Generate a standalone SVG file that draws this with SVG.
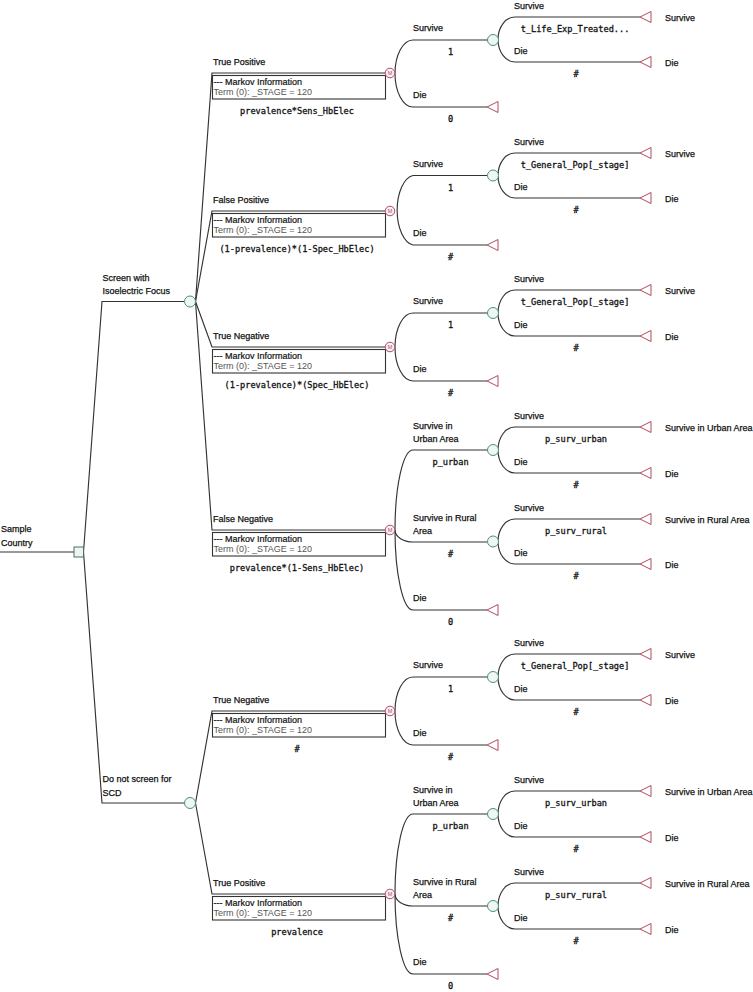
<svg xmlns="http://www.w3.org/2000/svg" xmlns:xlink="http://www.w3.org/1999/xlink" width="753" height="992" viewBox="0 0 753 992">
<style>
.ln{fill:none;stroke:#333;stroke-width:1.15}
.lbl{font-family:"Liberation Sans",Arial,sans-serif;font-size:9px;fill:#111;stroke:#111;stroke-width:0.25}
.mi{font-family:"Liberation Sans",Arial,sans-serif;font-size:9px;fill:#111;stroke:#111;stroke-width:0.2}
.mt{font-family:"Liberation Sans",Arial,sans-serif;font-size:9px;fill:#555}
.pr{font-family:"DejaVu Sans Mono","Liberation Mono",monospace;font-size:8.6px;fill:#111;stroke:#111;stroke-width:0.3;text-anchor:middle}
.box{fill:#fff;stroke:#333;stroke-width:1.1}
.chance{fill:#eef7f3;stroke:#4f8f7c;stroke-width:1}
.dec{fill:#eef4f2;stroke:#4f6f66;stroke-width:1}
.mc{fill:#fbeef3;stroke:#a8506e;stroke-width:1}
.mlt{font-family:"Liberation Sans",Arial,sans-serif;font-size:5.5px;fill:#a8506e;text-anchor:middle}
.term{fill:#fff;stroke:#b04a5c;stroke-width:1}
</style>
<defs>
<polygon id="tri" class="term" points="0,0 11,-5.5 11,5.5"/>
<circle id="ch" class="chance" r="5.5"/>
<g id="mk"><circle class="mc" r="4.8"/><text class="mlt" y="2">M</text></g>
</defs>

<g id="connectors">
<path class="ln" d="M0,552 H74"/>
<path class="ln" d="M83.5,552 L102,301.5 H184.5"/>
<path class="ln" d="M83.5,552 L102,803 H184.5"/>
<path class="ln" d="M195.5,301.5 L212,73 H385"/>
<path class="ln" d="M195.5,301.5 L212,211 H385"/>
<path class="ln" d="M195.5,301.5 L212,347 H385"/>
<path class="ln" d="M195.5,301.5 L212,530 H385"/>
<path class="ln" d="M195.5,803 L212,711 H385"/>
<path class="ln" d="M195.5,803 L212,894 H385"/>
<path class="ln" d="M487.5,40 H413 A18,33.5 0 0 0 413,107 H487"/>
<path class="ln" d="M487.5,175.5 H413 A18,35 0 0 0 413,245 H487"/>
<path class="ln" d="M487.5,313 H413 A18,34 0 0 0 413,381 H487"/>
<path class="ln" d="M487.5,450 H413 A18,80 0 0 0 413,610 H487"/>
<path class="ln" d="M395,530 A18,12 0 0 0 413,542 H487.5"/>
<path class="ln" d="M487.5,677 H413 A18,34 0 0 0 413,745 H487"/>
<path class="ln" d="M487.5,814 H413 A18,80 0 0 0 413,974 H487"/>
<path class="ln" d="M395,894 A18,12 0 0 0 413,906 H487.5"/>
<path class="ln" d="M640,17 H515 A17,22.5 0 0 0 515,62 H640"/>
<path class="ln" d="M640,153 H515 A17,22.5 0 0 0 515,198 H640"/>
<path class="ln" d="M640,290 H515 A17,23 0 0 0 515,336 H640"/>
<path class="ln" d="M640,427 H515 A17,23 0 0 0 515,473 H640"/>
<path class="ln" d="M640,519 H515 A17,22.5 0 0 0 515,564 H640"/>
<path class="ln" d="M640,654 H515 A17,23 0 0 0 515,700 H640"/>
<path class="ln" d="M640,791 H515 A17,23 0 0 0 515,837 H640"/>
<path class="ln" d="M640,883 H515 A17,23 0 0 0 515,929 H640"/>
</g>

<g id="root">
<rect class="dec" x="74" y="547" width="9.5" height="10"/>
<text class="lbl" x="1" y="532.3">Sample</text>
<text class="lbl" x="1" y="545.6">Country</text>
</g>

<g id="screen">
<use href="#ch" x="190" y="301.5"/>
<text class="lbl" x="102.5" y="280.5">Screen with</text>
<text class="lbl" x="102.5" y="294">Isoelectric Focus</text>
</g>

<g id="noscreen">
<use href="#ch" x="190" y="803"/>
<text class="lbl" x="102.5" y="782">Do not screen for</text>
<text class="lbl" x="102.5" y="795.5">SCD</text>
</g>

<g id="m-tp">
<text class="lbl" x="213" y="65.3">True Positive</text>
<rect class="box" x="212.5" y="75.5" width="173" height="23.5"/>
<text class="mi" x="213.5" y="85">--- Markov Information</text>
<text class="mt" x="213.5" y="95.3">Term (0): _STAGE = 120</text>
<text class="pr" x="297" y="113.5">prevalence*Sens_HbElec</text>
<use href="#mk" x="390" y="73"/>
</g>
<g id="tp-survive">
<text class="lbl" x="413" y="31.3">Survive</text>
<text class="pr" x="450.5" y="55">1</text>
<use href="#ch" x="493" y="40"/>
</g>
<g id="tp-survive-survive">
<text class="lbl" x="514" y="8.6">Survive</text>
<text class="pr" x="575" y="32.3">t_Life_Exp_Treated...</text>
<use href="#tri" x="640" y="17"/>
<text class="lbl" x="665" y="21">Survive</text>
</g>
<g id="tp-survive-die">
<text class="lbl" x="514" y="53.6">Die</text>
<text class="pr" x="576" y="77.3">#</text>
<use href="#tri" x="640" y="62"/>
<text class="lbl" x="665" y="66">Die</text>
</g>
<g id="tp-die">
<text class="lbl" x="413" y="98.3">Die</text>
<text class="pr" x="450.5" y="122">0</text>
<use href="#tri" x="487" y="107"/>
</g>

<g id="m-fp">
<text class="lbl" x="213" y="203.3">False Positive</text>
<rect class="box" x="212.5" y="213.5" width="173" height="23.5"/>
<text class="mi" x="213.5" y="223">--- Markov Information</text>
<text class="mt" x="213.5" y="233.3">Term (0): _STAGE = 120</text>
<text class="pr" x="297" y="251.5">(1-prevalence)*(1-Spec_HbElec)</text>
<use href="#mk" x="390" y="211"/>
</g>
<g id="fp-survive">
<text class="lbl" x="413" y="166.8">Survive</text>
<text class="pr" x="450.5" y="190.5">1</text>
<use href="#ch" x="493" y="175.5"/>
</g>
<g id="fp-survive-survive">
<text class="lbl" x="514" y="144.6">Survive</text>
<text class="pr" x="575" y="168.3">t_General_Pop[_stage]</text>
<use href="#tri" x="640" y="153"/>
<text class="lbl" x="665" y="157">Survive</text>
</g>
<g id="fp-survive-die">
<text class="lbl" x="514" y="189.6">Die</text>
<text class="pr" x="576" y="213.3">#</text>
<use href="#tri" x="640" y="198"/>
<text class="lbl" x="665" y="202">Die</text>
</g>
<g id="fp-die">
<text class="lbl" x="413" y="236.3">Die</text>
<text class="pr" x="450.5" y="260">#</text>
<use href="#tri" x="487" y="245"/>
</g>

<g id="m-tn">
<text class="lbl" x="213" y="339.3">True Negative</text>
<rect class="box" x="212.5" y="349.5" width="173" height="23.5"/>
<text class="mi" x="213.5" y="359">--- Markov Information</text>
<text class="mt" x="213.5" y="369.3">Term (0): _STAGE = 120</text>
<text class="pr" x="297" y="387.5">(1-prevalence)*(Spec_HbElec)</text>
<use href="#mk" x="390" y="347"/>
</g>
<g id="tn-survive">
<text class="lbl" x="413" y="304.3">Survive</text>
<text class="pr" x="450.5" y="328">1</text>
<use href="#ch" x="493" y="313"/>
</g>
<g id="tn-survive-survive">
<text class="lbl" x="514" y="281.6">Survive</text>
<text class="pr" x="575" y="305.3">t_General_Pop[_stage]</text>
<use href="#tri" x="640" y="290"/>
<text class="lbl" x="665" y="294">Survive</text>
</g>
<g id="tn-survive-die">
<text class="lbl" x="514" y="327.6">Die</text>
<text class="pr" x="576" y="351.3">#</text>
<use href="#tri" x="640" y="336"/>
<text class="lbl" x="665" y="340">Die</text>
</g>
<g id="tn-die">
<text class="lbl" x="413" y="372.3">Die</text>
<text class="pr" x="450.5" y="396">#</text>
<use href="#tri" x="487" y="381"/>
</g>

<g id="m-fn">
<text class="lbl" x="213" y="522.3">False Negative</text>
<rect class="box" x="212.5" y="532.5" width="173" height="23.5"/>
<text class="mi" x="213.5" y="542">--- Markov Information</text>
<text class="mt" x="213.5" y="552.3">Term (0): _STAGE = 120</text>
<text class="pr" x="297" y="570.5">prevalence*(1-Sens_HbElec)</text>
<use href="#mk" x="390" y="530"/>
</g>
<g id="fn-urban">
<text class="lbl" x="413" y="429">Survive in</text>
<text class="lbl" x="413" y="442.3">Urban Area</text>
<text class="pr" x="450.5" y="465">p_urban</text>
<use href="#ch" x="493" y="450"/>
</g>
<g id="fn-urban-survive">
<text class="lbl" x="514" y="418.6">Survive</text>
<text class="pr" x="576" y="442.3">p_surv_urban</text>
<use href="#tri" x="640" y="427"/>
<text class="lbl" x="665" y="431">Survive in Urban Area</text>
</g>
<g id="fn-urban-die">
<text class="lbl" x="514" y="464.6">Die</text>
<text class="pr" x="576" y="488.3">#</text>
<use href="#tri" x="640" y="473"/>
<text class="lbl" x="665" y="477">Die</text>
</g>
<g id="fn-rural">
<text class="lbl" x="413" y="521">Survive in Rural</text>
<text class="lbl" x="413" y="534.3">Area</text>
<text class="pr" x="450.5" y="557">#</text>
<use href="#ch" x="493" y="541.5"/>
</g>
<g id="fn-rural-survive">
<text class="lbl" x="514" y="510.6">Survive</text>
<text class="pr" x="576" y="534.3">p_surv_rural</text>
<use href="#tri" x="640" y="519"/>
<text class="lbl" x="665" y="523">Survive in Rural Area</text>
</g>
<g id="fn-rural-die">
<text class="lbl" x="514" y="555.6">Die</text>
<text class="pr" x="576" y="579.3">#</text>
<use href="#tri" x="640" y="564"/>
<text class="lbl" x="665" y="568">Die</text>
</g>
<g id="fn-die">
<text class="lbl" x="413" y="601.3">Die</text>
<text class="pr" x="450.5" y="625">0</text>
<use href="#tri" x="487" y="610"/>
</g>

<g id="m-dtn">
<text class="lbl" x="213" y="703.3">True Negative</text>
<rect class="box" x="212.5" y="713.5" width="173" height="23.5"/>
<text class="mi" x="213.5" y="723">--- Markov Information</text>
<text class="mt" x="213.5" y="733.3">Term (0): _STAGE = 120</text>
<text class="pr" x="297" y="751.5">#</text>
<use href="#mk" x="390" y="711"/>
</g>
<g id="dtn-survive">
<text class="lbl" x="413" y="668.3">Survive</text>
<text class="pr" x="450.5" y="692">1</text>
<use href="#ch" x="493" y="677"/>
</g>
<g id="dtn-survive-survive">
<text class="lbl" x="514" y="645.6">Survive</text>
<text class="pr" x="575" y="669.3">t_General_Pop[_stage]</text>
<use href="#tri" x="640" y="654"/>
<text class="lbl" x="665" y="658">Survive</text>
</g>
<g id="dtn-survive-die">
<text class="lbl" x="514" y="691.6">Die</text>
<text class="pr" x="576" y="715.3">#</text>
<use href="#tri" x="640" y="700"/>
<text class="lbl" x="665" y="704">Die</text>
</g>
<g id="dtn-die">
<text class="lbl" x="413" y="736.3">Die</text>
<text class="pr" x="450.5" y="760">#</text>
<use href="#tri" x="487" y="745"/>
</g>

<g id="m-dtp">
<text class="lbl" x="213" y="886.3">True Positive</text>
<rect class="box" x="212.5" y="896.5" width="173" height="23.5"/>
<text class="mi" x="213.5" y="906">--- Markov Information</text>
<text class="mt" x="213.5" y="916.3">Term (0): _STAGE = 120</text>
<text class="pr" x="297" y="934.5">prevalence</text>
<use href="#mk" x="390" y="894"/>
</g>
<g id="dtp-urban">
<text class="lbl" x="413" y="793">Survive in</text>
<text class="lbl" x="413" y="806.3">Urban Area</text>
<text class="pr" x="450.5" y="829">p_urban</text>
<use href="#ch" x="493" y="814"/>
</g>
<g id="dtp-urban-survive">
<text class="lbl" x="514" y="782.6">Survive</text>
<text class="pr" x="576" y="806.3">p_surv_urban</text>
<use href="#tri" x="640" y="791"/>
<text class="lbl" x="665" y="795">Survive in Urban Area</text>
</g>
<g id="dtp-urban-die">
<text class="lbl" x="514" y="828.6">Die</text>
<text class="pr" x="576" y="852.3">#</text>
<use href="#tri" x="640" y="837"/>
<text class="lbl" x="665" y="841">Die</text>
</g>
<g id="dtp-rural">
<text class="lbl" x="413" y="885">Survive in Rural</text>
<text class="lbl" x="413" y="898.3">Area</text>
<text class="pr" x="450.5" y="921">#</text>
<use href="#ch" x="493" y="906"/>
</g>
<g id="dtp-rural-survive">
<text class="lbl" x="514" y="874.6">Survive</text>
<text class="pr" x="576" y="898.3">p_surv_rural</text>
<use href="#tri" x="640" y="883"/>
<text class="lbl" x="665" y="887">Survive in Rural Area</text>
</g>
<g id="dtp-rural-die">
<text class="lbl" x="514" y="920.6">Die</text>
<text class="pr" x="576" y="944.3">#</text>
<use href="#tri" x="640" y="929"/>
<text class="lbl" x="665" y="933">Die</text>
</g>
<g id="dtp-die">
<text class="lbl" x="413" y="965.3">Die</text>
<text class="pr" x="450.5" y="989">0</text>
<use href="#tri" x="487" y="974"/>
</g>
</svg>
